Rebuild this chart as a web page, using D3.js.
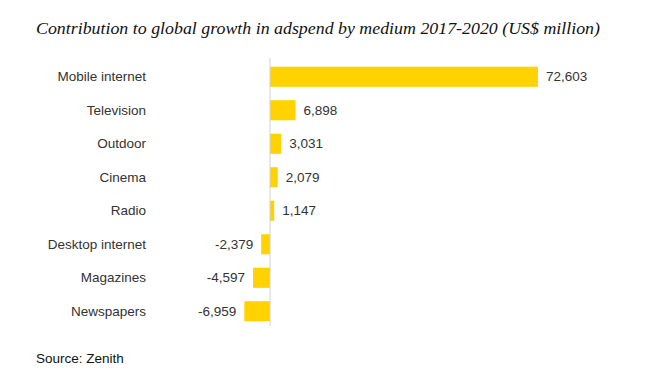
<!DOCTYPE html>
<html><head><meta charset="utf-8">
<script src="https://cdn.jsdelivr.net/npm/d3@7"></script>
<style>body{margin:0;background:#fff}svg{display:block}</style>
</head><body>
<svg id="c" width="648" height="383"></svg>
<script>
const categories = ["Mobile internet","Television","Outdoor","Cinema","Radio","Desktop internet","Magazines","Newspapers"];
const values = [72603, 6898, 3031, 2079, 1147, -2379, -4597, -6959];
const titleText = "Contribution to global growth in adspend by medium 2017-2020 (US$ million)";
const sourceText = "Source: Zenith";

const svg = d3.select("#c");
const x = d3.scaleLinear().domain([0, 72603]).range([270, 538]);
const y = d3.scaleBand().domain(categories).range([60, 328]).paddingInner(0.4).paddingOuter(0.2);
const fmt = d3.format(",");

svg.append("text").attr("x", 36).attr("y", 34)
  .attr("font-family", "Georgia, 'Liberation Serif', serif").attr("font-style", "italic")
  .attr("font-size", 17.5).attr("fill", "#111")
  .attr("textLength", 564).attr("lengthAdjust", "spacingAndGlyphs")
  .text(titleText);

svg.selectAll("rect.bar").data(values).join("rect").attr("class","bar")
  .attr("x", d => x(Math.min(0,d)))
  .attr("width", d => Math.abs(x(d)-x(0)))
  .attr("y", (d,i) => y(categories[i]))
  .attr("height", y.bandwidth())
  .attr("fill", "#FFD200");

svg.append("line").attr("x1", x(0)).attr("x2", x(0)).attr("y1", 58).attr("y2", 326)
  .attr("stroke", "#d0d0d0").attr("stroke-width", 1);

svg.selectAll("text.cat").data(categories).join("text").attr("class","cat")
  .attr("x", 146).attr("y", d => y(d) + y.bandwidth()/2)
  .attr("dy", "0.35em").attr("text-anchor", "end")
  .attr("font-family", "'Liberation Sans', Arial, sans-serif").attr("font-size", 13.5).attr("fill", "#333")
  .text(d => d);

svg.selectAll("text.val").data(values).join("text").attr("class","val")
  .attr("x", d => d >= 0 ? x(d) + 8 : x(d) - 8)
  .attr("y", (d,i) => y(categories[i]) + y.bandwidth()/2)
  .attr("dy", "0.35em").attr("text-anchor", d => d >= 0 ? "start" : "end")
  .attr("font-family", "'Liberation Sans', Arial, sans-serif").attr("font-size", 13.5).attr("fill", "#333")
  .text(d => fmt(d).replace("−","-"));

svg.append("text").attr("x", 36).attr("y", 363)
  .attr("font-family", "'Liberation Sans', Arial, sans-serif").attr("font-size", 13.5).attr("fill", "#111")
  .text(sourceText);
</script>
</body></html>
